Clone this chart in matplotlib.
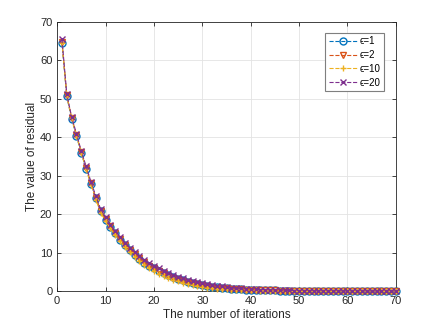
import matplotlib
matplotlib.use("Agg")
import matplotlib.pyplot as plt
import numpy as np

plt.rcParams['font.family'] = ['Liberation Sans', 'DejaVu Sans']

iterations = list(range(1, 71))

res_eps1 = [64.5, 50.6, 44.8, 40.3, 35.8, 31.8, 27.8, 24.1, 20.7, 18.6,
            16.7, 15.0, 13.4, 12.0, 10.7, 9.5, 8.4, 7.4, 6.6, 5.9,
            5.2, 4.6, 4.1, 3.6, 3.2, 2.8, 2.4, 2.1, 1.8, 1.55,
            1.33, 1.14, 0.98, 0.84, 0.72, 0.62, 0.53, 0.45, 0.39, 0.33,
            0.28, 0.24, 0.21, 0.18, 0.15, 0.13, 0.11, 0.095, 0.08, 0.07,
            0.06, 0.05, 0.045, 0.04, 0.035, 0.03, 0.026, 0.022, 0.019, 0.016,
            0.014, 0.012, 0.01, 0.009, 0.008, 0.007, 0.006, 0.005, 0.004, 0.004]

res_eps2 = [64.8, 50.9, 45.0, 40.6, 36.1, 32.0, 28.0, 24.3, 20.9, 18.8,
            16.8, 15.1, 13.5, 12.1, 10.8, 9.6, 8.5, 7.5, 6.6, 5.9,
            5.2, 4.6, 4.0, 3.5, 3.1, 2.7, 2.3, 2.0, 1.7, 1.45,
            1.24, 1.06, 0.9, 0.77, 0.66, 0.56, 0.48, 0.41, 0.35, 0.3,
            0.26, 0.22, 0.19, 0.16, 0.14, 0.12, 0.1, 0.085, 0.075, 0.065,
            0.055, 0.048, 0.042, 0.036, 0.031, 0.027, 0.023, 0.02, 0.017, 0.015,
            0.013, 0.011, 0.009, 0.008, 0.007, 0.006, 0.005, 0.004, 0.004, 0.003]

res_eps10 = [64.6, 50.7, 44.9, 40.4, 35.9, 31.7, 27.6, 23.8, 20.4, 18.2,
             16.3, 14.5, 12.9, 11.4, 10.1, 8.9, 7.8, 6.8, 5.9, 5.2,
             4.5, 3.9, 3.4, 2.9, 2.5, 2.1, 1.8, 1.5, 1.25, 1.05,
             0.88, 0.73, 0.61, 0.51, 0.42, 0.35, 0.29, 0.24, 0.2, 0.17,
             0.14, 0.12, 0.1, 0.085, 0.07, 0.06, 0.05, 0.04, 0.035, 0.03,
             0.025, 0.021, 0.018, 0.015, 0.013, 0.011, 0.009, 0.008, 0.007, 0.006,
             0.005, 0.004, 0.004, 0.003, 0.003, 0.002, 0.002, 0.002, 0.001, 0.001]

res_eps20 = [65.5, 51.2, 45.3, 40.9, 36.4, 32.4, 28.4, 24.7, 21.3, 19.2,
             17.3, 15.6, 14.0, 12.6, 11.3, 10.1, 9.1, 8.1, 7.3, 6.6,
             5.9, 5.3, 4.7, 4.2, 3.7, 3.3, 2.9, 2.6, 2.3, 2.0,
             1.75, 1.55, 1.35, 1.18, 1.03, 0.9, 0.78, 0.68, 0.59, 0.51,
             0.44, 0.38, 0.33, 0.28, 0.24, 0.21, 0.18, 0.15, 0.13, 0.11,
             0.095, 0.08, 0.07, 0.06, 0.05, 0.045, 0.04, 0.035, 0.03, 0.025,
             0.02, 0.018, 0.015, 0.013, 0.011, 0.01, 0.008, 0.007, 0.006, 0.005]

labels = ['\u03f5=1', '\u03f5=2', '\u03f5=10', '\u03f5=20']
series = [res_eps1, res_eps2, res_eps10, res_eps20]
colors = ['#0072BD', '#D95319', '#EDB120', '#7E2F8E']
markers = ['o', 'v', '+', 'x']

fig = plt.figure(figsize=(4.36, 3.27), dpi=100)
ax = fig.add_axes([0.131, 0.110, 0.777, 0.823])

for y, lab, c, m in zip(series, labels, colors, markers):
    ax.plot(iterations, y, linestyle='--', color=c, marker=m, markersize=5,
            markerfacecolor='none', markeredgewidth=1.0, linewidth=0.8,
            label=lab, clip_on=False, zorder=3)

ax.set_xlim(0, 70)
ax.set_ylim(0, 70)
ax.set_xticks(np.arange(0, 71, 10))
ax.set_yticks(np.arange(0, 71, 10))
ax.grid(True, color='#e3e3e3', linewidth=0.6)
ax.set_axisbelow(True)
for s in ax.spines.values():
    s.set_color('#262626')
    s.set_linewidth(0.6)
    s.set_zorder(2)
ax.tick_params(direction='in', top=True, right=True, labelsize=8,
               colors='#262626', length=3, width=0.6)
ax.set_xlabel('The number of iterations', fontsize=8.5, color='#262626', labelpad=2)
ax.set_ylabel('The value of residual', fontsize=8.5, color='#262626', labelpad=1)

leg = ax.legend(loc='upper right', fontsize=7, frameon=True, fancybox=False,
                edgecolor='#7f7f7f', framealpha=1, handlelength=3.0,
                borderpad=0.35, labelspacing=0.4, handletextpad=0.2,
                borderaxespad=0.0, bbox_to_anchor=(0.965, 0.96))
leg.get_frame().set_linewidth(0.8)
leg.set_zorder(5)

fig.savefig('out.png', dpi=100)
